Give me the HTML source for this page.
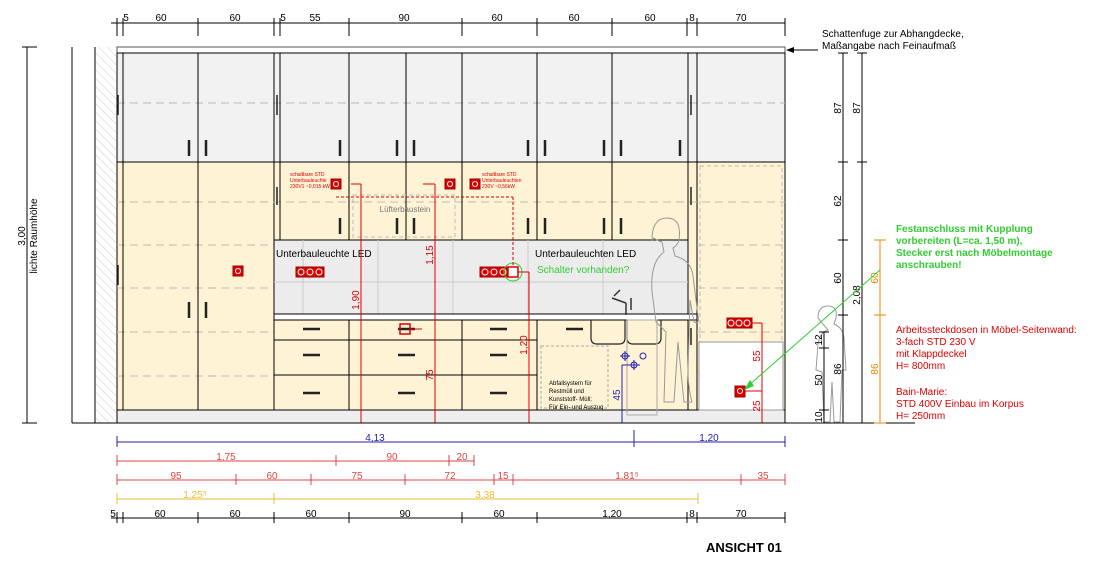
<!DOCTYPE html>
<html><head><meta charset="utf-8"><style>
html,body{margin:0;padding:0;background:#fff;}
svg{display:block;font-family:"Liberation Sans",sans-serif;}
</style></head><body>
<svg width="1096" height="579" viewBox="0 0 1096 579" xmlns="http://www.w3.org/2000/svg">
<defs>
<pattern id="h" width="6" height="6" patternUnits="userSpaceOnUse" patternTransform="rotate(-45)"><line x1="0" y1="0" x2="0" y2="6" stroke="#ccc" stroke-width="1"/></pattern>
</defs>
<!-- top dims -->
<g stroke="#000" stroke-width="1" fill="none">
<line x1="111" y1="23" x2="785" y2="23"/>
<g stroke-width="1">
<line x1="117" y1="18" x2="117" y2="36"/><line x1="123" y1="18" x2="123" y2="36"/><line x1="198" y1="18" x2="198" y2="36"/><line x1="274" y1="18" x2="274" y2="36"/><line x1="280" y1="18" x2="280" y2="36"/><line x1="349" y1="18" x2="349" y2="36"/><line x1="462" y1="18" x2="462" y2="36"/><line x1="537" y1="18" x2="537" y2="36"/><line x1="612" y1="18" x2="612" y2="36"/><line x1="687" y1="18" x2="687" y2="36"/><line x1="697" y1="18" x2="697" y2="36"/><line x1="785" y1="18" x2="785" y2="36"/>
</g></g>
<g font-size="10" fill="#000" text-anchor="middle">
<text x="126" y="21">5</text><text x="161" y="21">60</text><text x="235" y="21">60</text><text x="283" y="21">5</text><text x="315" y="21">55</text><text x="404" y="21">90</text><text x="497" y="21">60</text><text x="574" y="21">60</text><text x="650" y="21">60</text><text x="692" y="21">8</text><text x="741" y="21">70</text>
</g>
<!-- left -->
<line x1="27" y1="47" x2="27" y2="423" stroke="#000"/>
<line x1="22" y1="47" x2="37" y2="47" stroke="#000"/>
<line x1="22" y1="423" x2="37" y2="423" stroke="#000"/>
<text transform="translate(25,236) rotate(-90)" font-size="10" text-anchor="middle">3,00</text>
<text transform="translate(37,236) rotate(-90)" font-size="10" text-anchor="middle">lichte Raumhöhe</text>
<line x1="72" y1="47" x2="72" y2="423" stroke="#000"/>
<line x1="95" y1="47" x2="95" y2="423" stroke="#000"/>
<rect x="96" y="47" width="20" height="376" fill="url(#h)"/>
<!-- ceiling -->
<rect x="117" y="47" width="668" height="6" fill="#fff" stroke="#555"/>
<polygon points="786,50 794,47 794,53" fill="#000"/><line x1="794" y1="50" x2="818" y2="50" stroke="#000"/>
<text x="822" y="37" font-size="10">Schattenfuge zur Abhangdecke,</text>
<text x="822" y="49" font-size="10">Maßangabe nach Feinaufmaß</text>
<!-- upper cabinets -->
<rect x="117" y="53" width="668" height="109" fill="#f2f2f2" stroke="#000"/>
<line x1="117" y1="103" x2="785" y2="103" stroke="#bbb" stroke-dasharray="8,5"/>
<!-- tall left -->
<rect x="117" y="162" width="157" height="248" fill="#fff3d6" stroke="#000"/>
<rect x="697" y="162" width="88" height="248" fill="#fff3d6" stroke="#000"/>
<rect x="700" y="166" width="82" height="242" fill="none" stroke="#bbb" stroke-dasharray="4,3"/>
<!-- middle wall cabs -->
<rect x="274" y="162" width="423" height="78" fill="#fff3d6" stroke="#000"/>
<rect x="688" y="162" width="9" height="248" fill="#fff3d6" stroke="#000"/>
<g stroke="#bbb" stroke-dasharray="8,5">
<line x1="117" y1="202" x2="785" y2="202"/>
<line x1="117" y1="245" x2="274" y2="245"/><line x1="697" y1="245" x2="785" y2="245"/>
<line x1="117" y1="288" x2="274" y2="288"/><line x1="697" y1="288" x2="785" y2="288"/>
<line x1="117" y1="332" x2="274" y2="332"/><line x1="697" y1="332" x2="785" y2="332"/>
<line x1="117" y1="376" x2="274" y2="376"/><line x1="697" y1="376" x2="785" y2="376"/>
</g>
<!-- backsplash -->
<rect x="274" y="240" width="414" height="75" fill="#ececec" stroke="#000"/>
<g stroke="#ccc"><line x1="274" y1="282" x2="688" y2="282"/><line x1="303" y1="240" x2="303" y2="315"/><line x1="378" y1="240" x2="378" y2="315"/><line x1="453" y1="240" x2="453" y2="315"/><line x1="528" y1="240" x2="528" y2="315"/><line x1="603" y1="240" x2="603" y2="315"/></g>
<!-- worktop & base -->
<rect x="274" y="314" width="423" height="6" fill="#fff" stroke="#000"/>
<rect x="274" y="320" width="414" height="90" fill="#fff3d6" stroke="#000"/>
<rect x="117" y="410" width="668" height="13" fill="#eee" stroke="#000"/>
<rect x="699" y="342" width="84" height="68" fill="#fff" stroke="#999"/>
<g stroke="#000">
<line x1="123" y1="53" x2="123" y2="410"/><line x1="198" y1="53" x2="198" y2="410"/>
<line x1="274" y1="53" x2="274" y2="162"/><line x1="280" y1="53" x2="280" y2="240"/><line x1="349" y1="53" x2="349" y2="240"/><line x1="406" y1="53" x2="406" y2="240"/><line x1="462" y1="53" x2="462" y2="240"/><line x1="537" y1="53" x2="537" y2="240"/><line x1="612" y1="53" x2="612" y2="240"/><line x1="688" y1="53" x2="688" y2="162"/><line x1="697" y1="53" x2="697" y2="162"/>
<line x1="349" y1="320" x2="349" y2="410"/><line x1="462" y1="320" x2="462" y2="410"/><line x1="537" y1="320" x2="537" y2="410"/>
<line x1="274" y1="340" x2="537" y2="340"/><line x1="274" y1="375" x2="537" y2="375"/>
</g>
<rect x="541" y="346" width="67" height="62" fill="none" stroke="#aaa" stroke-dasharray="3,2"/>
<g font-size="6" fill="#000"><text x="549" y="385">Abfallsystem für</text><text x="549" y="393">Restmüll und</text><text x="549" y="401">Kunststoff- Müll;</text><text x="549" y="409">Für Ein- und Auszug</text></g>
<!-- handles -->
<g stroke="#222" stroke-width="2.5">
<line x1="189" y1="140" x2="189" y2="156"/><line x1="206" y1="140" x2="206" y2="156"/><line x1="340" y1="140" x2="340" y2="156"/><line x1="397" y1="140" x2="397" y2="156"/><line x1="414" y1="140" x2="414" y2="156"/><line x1="528" y1="140" x2="528" y2="156"/><line x1="545" y1="140" x2="545" y2="156"/><line x1="604" y1="140" x2="604" y2="156"/><line x1="621" y1="140" x2="621" y2="156"/><line x1="680" y1="140" x2="680" y2="156"/>
<line x1="340" y1="218" x2="340" y2="234"/><line x1="397" y1="218" x2="397" y2="234"/><line x1="414" y1="218" x2="414" y2="234"/><line x1="528" y1="218" x2="528" y2="234"/><line x1="545" y1="218" x2="545" y2="234"/><line x1="604" y1="218" x2="604" y2="234"/><line x1="621" y1="218" x2="621" y2="234"/>
<line x1="189" y1="302" x2="189" y2="318"/><line x1="206" y1="302" x2="206" y2="318"/>
<line x1="303" y1="329" x2="320" y2="329"/><line x1="398" y1="329" x2="415" y2="329"/><line x1="490" y1="329" x2="507" y2="329"/><line x1="566" y1="329" x2="583" y2="329"/>
<line x1="303" y1="355" x2="320" y2="355"/><line x1="398" y1="355" x2="415" y2="355"/><line x1="490" y1="355" x2="507" y2="355"/>
<line x1="303" y1="393" x2="320" y2="393"/><line x1="398" y1="393" x2="415" y2="393"/><line x1="490" y1="393" x2="507" y2="393"/>
<line x1="118" y1="95" x2="118" y2="115" stroke-width="1.5"/><line x1="277" y1="95" x2="277" y2="115" stroke-width="1.5"/><line x1="691" y1="95" x2="691" y2="115" stroke-width="1.5"/><line x1="277" y1="187" x2="277" y2="205" stroke-width="1.5"/><line x1="691" y1="187" x2="691" y2="205" stroke-width="1.5"/><line x1="118" y1="265" x2="118" y2="285" stroke-width="1.5"/><line x1="691" y1="328" x2="691" y2="345" stroke-width="1.5"/>
</g>
<g fill="none" stroke="#222" stroke-width="1.2"><path d="M591 320 v18 q0 6 6 6 h22 q6 0 6 -6 v-18"/><path d="M627 320 v18 q0 6 6 6 h22 q6 0 6 -6 v-18"/></g>
<text x="405" y="212" font-size="8" fill="#777" text-anchor="middle">Lüfterbaustein</text>
<rect x="353" y="195" width="102" height="42" fill="none" stroke="#bbb" stroke-dasharray="4,3"/>
<text x="276" y="257" font-size="10">Unterbauleuchte LED</text>
<text x="535" y="257" font-size="10">Unterbauleuchten LED</text>
<!-- figures -->
<g fill="none" stroke="#999" stroke-width="1">
<path d="M652 240 q0-22 15-22 q15 0 12 22 q-2 6-6 8 l2 8 q16 4 18 20 l5 40 q2 8-4 6 l-4-22 l-2 70 q0 18 4 32 l-8 0 l-6-60 l-4 60 l-10 0 l2-70 l-10-10 l-4-30 q-2-30 12-40 l-2-10 q-6-2-8-4z"/>
<path d="M818 318 q0-12 10-12 q10 0 8 12 l-2 6 q10 4 10 16 l2 30 l-4 0 l-2 52 l-6 0 l-2-40 l-2 40 l-6 0 l-2-50 l-6-2 l2-26 q2-12 10-14z"/>
<rect x="627" y="320" width="30" height="95" stroke="#aaa"/>
</g>
<path d="M612 298 l14 5 M626 303 v12 M631 298 v12 M614 296 l6 -6" stroke="#333" stroke-width="1.5" fill="none"/>
<!-- red sockets -->
<g fill="#d00" stroke="#900">
<rect x="233" y="266" width="10" height="10"/><rect x="331" y="179" width="10" height="10"/><rect x="445" y="179" width="10" height="10"/><rect x="470" y="179" width="10" height="10"/>
<rect x="296" y="267" width="28" height="10"/><rect x="480" y="267" width="28" height="10"/>
<rect x="727" y="318" width="25" height="10"/><rect x="735" y="386" width="10" height="11"/>
</g>
<g fill="none" stroke="#fff" stroke-width="1"><circle cx="238" cy="271" r="2.5"/><circle cx="336" cy="184" r="2.5"/><circle cx="450" cy="184" r="2.5"/><circle cx="475" cy="184" r="2.5"/><circle cx="301" cy="272" r="3"/><circle cx="310" cy="272" r="3"/><circle cx="319" cy="272" r="3"/><circle cx="485" cy="272" r="3"/><circle cx="494" cy="272" r="3"/><circle cx="503" cy="272" r="3"/><circle cx="731" cy="323" r="3"/><circle cx="739" cy="323" r="3"/><circle cx="747" cy="323" r="3"/><circle cx="740" cy="391" r="2.5"/></g>
<rect x="508" y="267" width="10" height="10" fill="#fff" stroke="#d00" stroke-width="1.5"/>
<rect x="400" y="324" width="10" height="10" fill="none" stroke="#d00" stroke-width="1.5"/>
<circle cx="513" cy="272" r="9" fill="none" stroke="#3c3"/>
<g font-size="5" fill="#d00"><text x="290" y="176">schaltbare STD</text><text x="290" y="182">Unterbauleuchte</text><text x="290" y="188">230V1 ~0,015 kW</text><text x="482" y="176">schaltbare STD</text><text x="482" y="182">Unterbauleuchten</text><text x="482" y="188">230V ~0,56kW</text></g>
<g stroke="#d00" fill="none">
<line x1="336" y1="197" x2="513" y2="197" stroke-dasharray="3,2"/><line x1="513" y1="197" x2="513" y2="267" stroke-dasharray="3,2"/>
<line x1="351" y1="184" x2="361" y2="184"/><line x1="361" y1="184" x2="361" y2="423"/>
<line x1="423" y1="184" x2="435" y2="184"/><line x1="435" y1="184" x2="435" y2="423"/>
<line x1="518" y1="272" x2="529" y2="272"/><line x1="529" y1="272" x2="529" y2="423"/>
<line x1="410" y1="329" x2="422" y2="329"/>
<line x1="752" y1="323" x2="762" y2="323"/><line x1="762" y1="323" x2="762" y2="423"/><line x1="745" y1="391" x2="762" y2="391"/>
</g>
<g font-size="10" fill="#d00" text-anchor="middle">
<text transform="translate(359,300) rotate(-90)">1,90</text><text transform="translate(433,255) rotate(-90)">1,15</text><text transform="translate(433,375) rotate(-90)">75</text><text transform="translate(527,345) rotate(-90)">1,20</text><text transform="translate(760,356) rotate(-90)">55</text><text transform="translate(760,406) rotate(-90)">25</text>
</g>
<text x="537" y="273" font-size="10" fill="#3c3">Schalter vorhanden?</text>
<!-- blue -->
<g stroke="#22a" fill="none"><line x1="622" y1="365" x2="622" y2="423"/><line x1="622" y1="365" x2="640" y2="365"/><circle cx="625" cy="356" r="3"/><line x1="620" y1="356" x2="630" y2="356"/><line x1="625" y1="351" x2="625" y2="361"/><circle cx="634" cy="365" r="3"/><line x1="634" y1="360" x2="634" y2="370"/><circle cx="643" cy="356" r="3"/></g>
<text transform="translate(620,395) rotate(-90)" font-size="10" fill="#22a" text-anchor="middle">45</text>
<!-- floor -->
<line x1="72" y1="423" x2="915" y2="423" stroke="#000"/>
<!-- right dims -->
<g stroke="#000"><line x1="843" y1="53" x2="843" y2="423"/><line x1="862" y1="53" x2="862" y2="423"/><line x1="824" y1="332" x2="824" y2="423"/>
<line x1="838" y1="53" x2="848" y2="53"/><line x1="857" y1="53" x2="867" y2="53"/><line x1="838" y1="162" x2="848" y2="162"/><line x1="857" y1="162" x2="867" y2="162"/><line x1="838" y1="240" x2="848" y2="240"/><line x1="838" y1="315" x2="848" y2="315"/><line x1="819" y1="332" x2="829" y2="332"/><line x1="819" y1="348" x2="829" y2="348"/><line x1="819" y1="410" x2="829" y2="410"/></g>
<g stroke="#e80"><line x1="880" y1="240" x2="880" y2="423"/><line x1="874" y1="240" x2="886" y2="240"/><line x1="874" y1="315" x2="886" y2="315"/><line x1="874" y1="423" x2="886" y2="423"/></g>
<g font-size="10" text-anchor="middle">
<text transform="translate(841,108) rotate(-90)">87</text><text transform="translate(860,108) rotate(-90)">87</text><text transform="translate(841,201) rotate(-90)">62</text><text transform="translate(841,278) rotate(-90)">60</text><text transform="translate(841,369) rotate(-90)">86</text><text transform="translate(860,295) rotate(-90)">2,08</text><text transform="translate(822,340) rotate(-90)">12</text><text transform="translate(822,380) rotate(-90)">50</text><text transform="translate(822,417) rotate(-90)">10</text>
<text transform="translate(878,278) rotate(-90)" fill="#e80">60</text><text transform="translate(878,369) rotate(-90)" fill="#e80">86</text>
</g>
<line x1="880" y1="270" x2="748" y2="386" stroke="#3c3"/><polygon points="744,390 750,380 754,386" fill="#3c3"/>
<g font-size="10" font-weight="bold" fill="#3c3"><text x="896" y="232">Festanschluss mit Kupplung</text><text x="896" y="244">vorbereiten (L=ca. 1,50 m),</text><text x="896" y="256">Stecker erst nach Möbelmontage</text><text x="896" y="268">anschrauben!</text></g>
<g font-size="10" fill="#d00"><text x="896" y="333">Arbeitssteckdosen in Möbel-Seitenwand:</text><text x="896" y="345">3-fach STD 230 V</text><text x="896" y="357">mit Klappdeckel</text><text x="896" y="369">H= 800mm</text><text x="896" y="395">Bain-Marie:</text><text x="896" y="407">STD 400V Einbau im Korpus</text><text x="896" y="419">H= 250mm</text></g>
<!-- bottom dims -->
<g stroke="#22a"><line x1="117" y1="442" x2="785" y2="442"/><line x1="117" y1="436" x2="117" y2="447"/><line x1="634" y1="430" x2="634" y2="447"/><line x1="785" y1="436" x2="785" y2="447"/></g>
<g stroke="#d44"><line x1="117" y1="461" x2="474" y2="461"/><line x1="117" y1="455" x2="117" y2="466"/><line x1="336" y1="455" x2="336" y2="466"/><line x1="449" y1="455" x2="449" y2="466"/><line x1="474" y1="455" x2="474" y2="466"/>
<line x1="117" y1="480" x2="785" y2="480"/><line x1="117" y1="474" x2="117" y2="485"/><line x1="236" y1="474" x2="236" y2="485"/><line x1="311" y1="474" x2="311" y2="485"/><line x1="405" y1="474" x2="405" y2="485"/><line x1="494" y1="474" x2="494" y2="485"/><line x1="513" y1="474" x2="513" y2="485"/><line x1="741" y1="474" x2="741" y2="485"/><line x1="785" y1="474" x2="785" y2="485"/></g>
<g stroke="#eb3"><line x1="117" y1="499" x2="698" y2="499"/><line x1="117" y1="493" x2="117" y2="504"/><line x1="274" y1="493" x2="274" y2="504"/><line x1="698" y1="493" x2="698" y2="504"/></g>
<g stroke="#000"><line x1="111" y1="518" x2="785" y2="518"/><line x1="117" y1="512" x2="117" y2="523"/><line x1="123" y1="512" x2="123" y2="523"/><line x1="198" y1="512" x2="198" y2="523"/><line x1="274" y1="512" x2="274" y2="523"/><line x1="349" y1="512" x2="349" y2="523"/><line x1="462" y1="512" x2="462" y2="523"/><line x1="537" y1="512" x2="537" y2="523"/><line x1="687" y1="512" x2="687" y2="523"/><line x1="697" y1="512" x2="697" y2="523"/><line x1="785" y1="512" x2="785" y2="523"/></g>
<g font-size="10" text-anchor="middle">
<text x="375" y="441" fill="#22a">4,13</text><text x="709" y="441" fill="#22a">1,20</text>
<g fill="#d44"><text x="226" y="460">1,75</text><text x="392" y="460">90</text><text x="462" y="460">20</text>
<text x="176" y="479">95</text><text x="272" y="479">60</text><text x="357" y="479">75</text><text x="450" y="479">72</text><text x="503" y="479">15</text><text x="627" y="479">1,81⁵</text><text x="763" y="479">35</text></g>
<g fill="#eb3"><text x="195" y="498">1,25⁵</text><text x="485" y="498">3,38</text></g>
<text x="113" y="517">5</text><text x="160" y="517">60</text><text x="235" y="517">60</text><text x="311" y="517">60</text><text x="405" y="517">90</text><text x="499" y="517">60</text><text x="612" y="517">1,20</text><text x="692" y="517">8</text><text x="741" y="517">70</text>
</g>
<text x="706" y="552" font-size="13" font-weight="bold">ANSICHT 01</text>
</svg>
</body></html>
